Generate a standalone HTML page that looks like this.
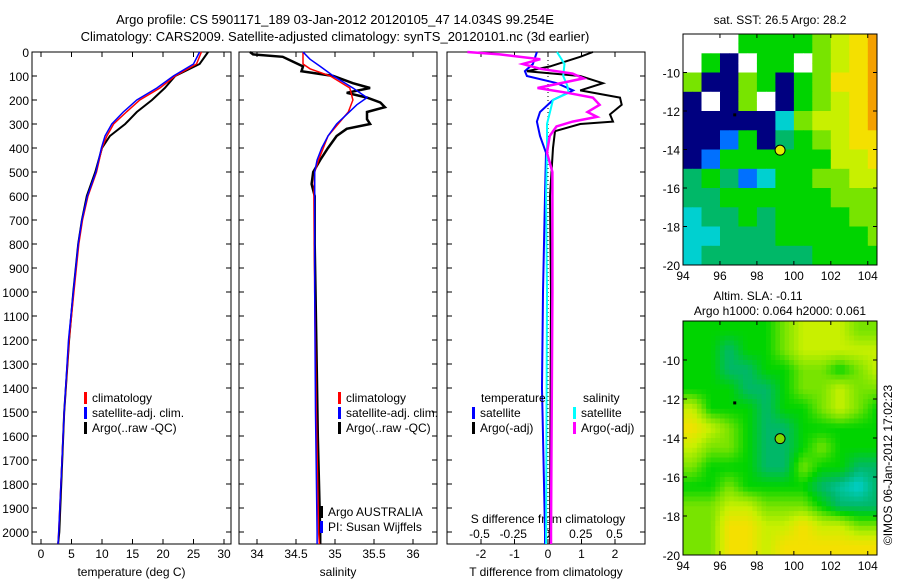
<!DOCTYPE html>
<html><head><meta charset="utf-8">
<style>
body{margin:0;background:#fff;}
svg{display:block;font-family:"Liberation Sans",sans-serif;}
text{font-size:12px;fill:#000;}
</style></head>
<body>
<svg id="fig" width="900" height="580">
<text x="335" y="24" text-anchor="middle" style="font-size:13px">Argo profile: CS 5901171_189 03-Jan-2012 20120105_47 14.034S 99.254E</text>
<text x="335" y="41" text-anchor="middle" style="font-size:13px">Climatology: CARS2009. Satellite-adjusted climatology: synTS_20120101.nc (3d earlier)</text>
<text x="780" y="24" text-anchor="middle">sat. SST: 26.5 Argo: 28.2</text>
<text x="758" y="300" text-anchor="middle">Altim. SLA: -0.11</text>
<text x="780" y="315" text-anchor="middle">Argo h1000: 0.064 h2000: 0.061</text>
<text transform="translate(892,465) rotate(-90)" text-anchor="middle">©IMOS 06-Jan-2012 17:02:23</text>
<g id="g"></g>
</svg>
<script>
// ---- depth / profile data ----
const tDepth=[0,50,100,150,200,250,300,350,400,500,600,700,800,1000,1200,1500,2000,2050];
const tArgo=[27.4,26,22,20.3,18.2,15.7,13.8,11.3,10,8.9,7.5,6.7,6.1,5.3,4.6,3.8,3.0,2.8];
const tClim=[26.3,25.5,22,19.5,16.2,14,11.9,10.8,10,9.1,7.7,6.8,6.2,5.4,4.6,3.8,2.9,2.8];
const tSat=[26,25,21.7,19,15.7,13.5,11.6,10.5,9.9,9,7.6,6.7,6.1,5.3,4.5,3.8,2.9,2.8];
const sArgoDepth=[0,10,20,40,60,80,100,130,150,170,190,210,230,250,280,300,320,350,400,450,500,550,600,800,1200,1600,2000,2050];
const sArgo=[33.91,33.95,34.33,34.46,34.59,34.57,34.98,35.23,35.45,35.15,35.41,35.58,35.64,35.41,35.41,35.45,35.15,35.02,34.91,34.81,34.72,34.70,34.74,34.74,34.76,34.78,34.81,34.81];
const sClimDepth=[0,50,70,100,150,200,250,300,350,400,450,500,600,1000,1500,2000,2050];
const sClim=[34.59,34.59,34.68,34.94,35.19,35.23,35.17,35.04,34.91,34.85,34.79,34.74,34.73,34.74,34.76,34.79,34.80];
const sSatDepth=[0,30,60,100,150,190,220,260,300,350,400,450,500,1000,1500,2000,2050];
const sSat=[34.59,34.68,34.81,34.98,35.23,35.41,35.28,35.15,35.02,34.91,34.83,34.77,34.74,34.74,34.75,34.77,34.77];
const dtSatDepth=[0,50,80,100,130,160,200,250,290,350,420,600,1000,1400,1800,2000,2050];
const dtSat=[-0.33,-0.45,-0.69,-0.63,0.27,0.75,0.15,-0.24,-0.33,-0.24,-0.06,-0.09,-0.15,-0.18,-0.12,-0.09,-0.09];
const dtArgoDepth=[0,20,60,80,100,130,160,190,220,260,290,300,330,400,600,1000,2000,2050];
const dtArgo=[1.34,0.96,0.06,-0.63,0.96,1.64,0.96,2.15,2.2,1.85,1.94,0.96,0.21,0.15,0.06,0.09,0.06,0.06];
const dsSatDepth=[0,50,100,140,170,200,250,300,400,600,1000,2000,2050];
const dsSat=[0.074,0.13,0.12,0.15,0.16,0.044,0.022,0,0,-0.007,0,-0.007,-0.007];
const dsArgoDepth=[0,10,30,50,70,90,110,150,170,190,220,250,270,290,310,350,420,500,1000,2000,2050];
const dsArgo=[-0.59,-0.35,-0.05,-0.18,-0.05,0.19,0.27,-0.07,0.15,0.34,0.39,0.3,0.37,0.19,0.07,0.02,0,0.04,0.04,0.03,0.03];
const depthTicks=[0,100,200,300,400,500,600,700,800,900,1000,1100,1200,1300,1400,1500,1600,1700,1800,1900,2000];
const tTicks=[0,5,10,15,20,25,30];
const sTicks=[34,34.5,35,35.5,36];
const dtTicks=[-2,-1,0,1,2];
const dsTicks=[-0.5,-0.25,0,0.25,0.5];
// ---- map data (value class 0..9, -1 = no data) ----
const lonTicks=[94,96,98,100,102,104];
const latTicks=[-10,-12,-14,-16,-18,-20];
const sstGrid=[
[-1,-1,-1,5,5,5,5,6,7,8,9],
[-1,5,0,-1,5,5,-1,6,7,8,9],
[6,0,0,6,5,0,5,6,8,8,9],
[0,-1,0,6,-1,0,5,6,7,8,9],
[0,0,0,0,0,3,6,7,7,8,9],
[0,0,2,5,0,4,5,6,7,8,8],
[0,2,5,5,5,5,5,5,7,7,8],
[4,5,4,2,3,5,5,6,6,7,7],
[4,4,5,5,5,5,5,5,6,6,6],
[3,4,4,5,4,5,5,5,5,6,6],
[3,3,4,4,4,5,5,5,5,5,6],
[3,4,4,4,4,4,4,5,5,5,5]];
const slaGrid=[
[5,5,5,5,5,6,7,7,7,6,6],
[5,5,4,5,5,6,7,7,7,7,7],
[5,5,4,4,5,5,6,6,5,6,7],
[5,5,5,4,4,5,6,6,7,6,6],
[7,5,5,5,4,5,5,6,7,6,5],
[8,7,6,5,4,4,5,5,5,5,5],
[7,6,6,5,4,4,5,6,5,5,5],
[6,5,5,5,4,4,6,5,5,4,4],
[5,5,6,5,5,5,5,4,3.5,3,4],
[6,6,7,7,6,6,6,5,4,4,4],
[6,6,8,8,7,7,8,7,7,6,6],
[6,6,8,8,7,8,8,8,8,8,8]];
const argoLon=99.254, argoLat=-14.034;

const NS='http://www.w3.org/2000/svg';
const G=document.getElementById('g');
function el(tag,attrs,parent){const e=document.createElementNS(NS,tag);for(const k in attrs)e.setAttribute(k,attrs[k]);(parent||G).appendChild(e);return e;}
function txt(x,y,s,anchor,parent){const t=el('text',{x:x,y:y,'text-anchor':anchor||'middle'},parent);t.textContent=s;return t;}

const yTop=52,yBot=544;
const yD=d=>yTop+d*0.24;

function panel(name,x0,x1,xs,ticks,tickFmt,xlabel,showDepthLabels){
  const g=el('g',{});
  
  
  const r=el('rect',{x:x0,y:yTop,width:x1-x0,height:yBot-yTop,fill:'none',stroke:'#000','stroke-width':1},g);
  
  
  depthTicks.forEach(d=>{
    el('line',{x1:x0,x2:x0+5,y1:yD(d),y2:yD(d),stroke:'#000'},g);
    el('line',{x1:x1-5,x2:x1,y1:yD(d),y2:yD(d),stroke:'#000'},g);
    if(showDepthLabels){const t=txt(x0-3,yD(d)+5,String(d),'end',g);
      
      }
  });
  ticks.forEach(v=>{
    const x=xs(v);
    el('line',{x1:x,x2:x,y1:yTop,y2:yTop+5,stroke:'#000'},g);
    el('line',{x1:x,x2:x,y1:yBot-5,y2:yBot,stroke:'#000'},g);
    const t=txt(x,558,tickFmt(v),'middle',g);
    
    
  });
  const l=txt((x0+x1)/2,576,xlabel,'middle',g);
  
  
  return g;
}
function line(depths,vals,xs,color,w,name){
  const p=depths.map((d,i)=>xs(vals[i]).toFixed(1)+','+yD(d).toFixed(1)).join(' ');
  const e=el('polyline',{points:p,fill:'none',stroke:color,'stroke-width':w});
  
  
}
function legend(x,y,color,label,name){
  el('rect',{x:x,y:y-10,width:3,height:12,fill:color});
  const t=txt(x+8,y,label,'start');
  
  
}

// Panel 1 temperature
const xT=v=>41+v*6.1;
panel('temperature-panel',32,231,xT,tTicks,String,'temperature (deg C)',true);
line(tDepth,tArgo,xT,'#000',2,'temp-argo-line');
line(tDepth,tClim,xT,'#f00',1.5,'temp-climatology-line');
line(tDepth,tSat,xT,'#00f',1.5,'temp-satellite-line');
legend(84,402,'#f00','climatology','legend-climatology');
legend(84,417,'#00f','satellite-adj. clim.','legend-satellite');
legend(84,432,'#000','Argo(..raw -QC)','legend-argo');

// Panel 2 salinity
const xS=v=>257+(v-34)*78;
panel('salinity-panel',239,437,xS,sTicks,String,'salinity',false);
line(sArgoDepth,sArgo,xS,'#000',2.5,'sal-argo-line');
line(sClimDepth,sClim,xS,'#f00',1.5,'sal-climatology-line');
line(sSatDepth,sSat,xS,'#00f',1.5,'sal-satellite-line');
legend(338,402,'#f00','climatology','legend-climatology-2');
legend(338,417,'#00f','satellite-adj. clim.','legend-satellite-2');
legend(338,432,'#000','Argo(..raw -QC)','legend-argo-2');
legend(320,516,'#000','Argo AUSTRALIA','legend-argo-australia');
legend(320,531,'#00f','PI: Susan Wijffels','legend-pi');

// Panel 3 differences
const xDT=v=>548+v*33.5;
const xDS=v=>547+v*135;
panel('difference-panel',447,645,xDT,dtTicks,String,'T difference from climatology',false);
dsTicks.forEach(v=>{const t=txt(xDS(v),538,String(v),'middle');
  
  });
{const t=txt(548,523,'S difference from climatology','middle');
 
 }
el('line',{x1:548,x2:548,y1:yTop,y2:yBot,stroke:'#000','stroke-dasharray':'1,3'});
line(dtSatDepth,dtSat,xDT,'#00f',2,'dt-satellite-line');
line(dtArgoDepth,dtArgo,xDT,'#000',2,'dt-argo-line');
line(dsSatDepth,dsSat,xDS,'#0ff',2,'ds-satellite-line');
line(dsArgoDepth,dsArgo,xDS,'#f0f',2.5,'ds-argo-line');
{const t=txt(481,402,'temperature','start');}
{const t=txt(583,402,'salinity','start');}
legend(472,417,'#00f','satellite','legend-t-satellite');
legend(472,432,'#000','Argo(-adj)','legend-t-argo');
legend(573,417,'#0ff','satellite','legend-s-satellite');
legend(573,432,'#f0f','Argo(-adj)','legend-s-argo');

// Maps
const cmap=['#000080','#0020c0','#0070ff','#00d0d0','#00b868','#00d400','#78e400','#c8f000','#f4e000','#f4a000'];
function colorOf(v){if(v<0)return '#fff';const i=Math.floor(v),f=v-i;if(f===0||i>=9)return cmap[Math.min(i,9)];
  const a=cmap[i],b=cmap[i+1];const h=s=>[1,3,5].map(k=>parseInt(s.substr(k,2),16));const A=h(a),B=h(b);
  return 'rgb('+A.map((c,k)=>Math.round(c+(B[k]-c)*f)).join(',')+')';}
function sample(grid,r,c){ // bilinear on cell centres
  const R=grid.length,C=grid[0].length;
  const rr=Math.max(0,Math.min(R-1,r-0.5)),cc=Math.max(0,Math.min(C-1,c-0.5));
  const r0=Math.floor(rr),c0=Math.floor(cc),r1=Math.min(R-1,r0+1),c1=Math.min(C-1,c0+1),fr=rr-r0,fc=cc-c0;
  return grid[r0][c0]*(1-fr)*(1-fc)+grid[r0][c1]*(1-fr)*fc+grid[r1][c0]*fr*(1-fc)+grid[r1][c1]*fr*fc;
}
function map(name,grid,x0,x1,y0,y1,smooth){
  const lonX=l=>x0+(l-94)*(x1-x0)/10.5;
  const latY=l=>y1-(l+20)*(y1-y0)/12;
  const g=el('g',{});
  
  
  const sub=smooth?4:2;
  grid.forEach((row,r)=>row.forEach((v,c)=>{
    for(let i=0;i<sub;i++)for(let j=0;j<sub;j++){
      const la=-8-r-i/sub, lo=94+c+j/sub;
      if(lo>=104.5)continue;
      const xa=lonX(lo),xb=lonX(Math.min(lo+1/sub,104.5)),ya=latY(la),yb=latY(la-1/sub);
      const val=smooth?sample(grid,r+(i+0.5)/sub,c+(j+0.5)/sub):v;
      const cell=el('rect',{x:xa.toFixed(1),y:ya.toFixed(1),width:(xb-xa+0.5).toFixed(1),height:(yb-ya+0.5).toFixed(1),fill:colorOf(val)},g);
      
      
    }
  }));
  el('rect',{x:x0,y:y0,width:x1-x0,height:y1-y0,fill:'none',stroke:'#000'},g);
  lonTicks.forEach(l=>{const x=lonX(l);el('line',{x1:x,x2:x,y1:y1-4,y2:y1,stroke:'#000'},g);el('line',{x1:x,x2:x,y1:y0,y2:y0+4,stroke:'#000'},g);
    const t=txt(x,y1+15,String(l),'middle',g);});
  latTicks.forEach(l=>{const y=latY(l);el('line',{x1:x0,x2:x0+4,y1:y,y2:y,stroke:'#000'},g);el('line',{x1:x1-4,x2:x1,y1:y,y2:y,stroke:'#000'},g);
    const t=txt(x0-3,y+5,String(l),'end',g);});
  el('rect',{x:lonX(96.8)-1.5,y:latY(-12.2)-1.5,width:3,height:3,fill:'#000'},g);
  const m=el('circle',{cx:lonX(argoLon),cy:latY(argoLat),r:5,fill:name==='sst-map'?'#e0f000':'#80d800',stroke:'#000'},g);
  
  
}
map('sst-map',sstGrid,683,877,34,265,false);
map('sla-map',slaGrid,683,877,321,555,true);
</script>
</body></html>
